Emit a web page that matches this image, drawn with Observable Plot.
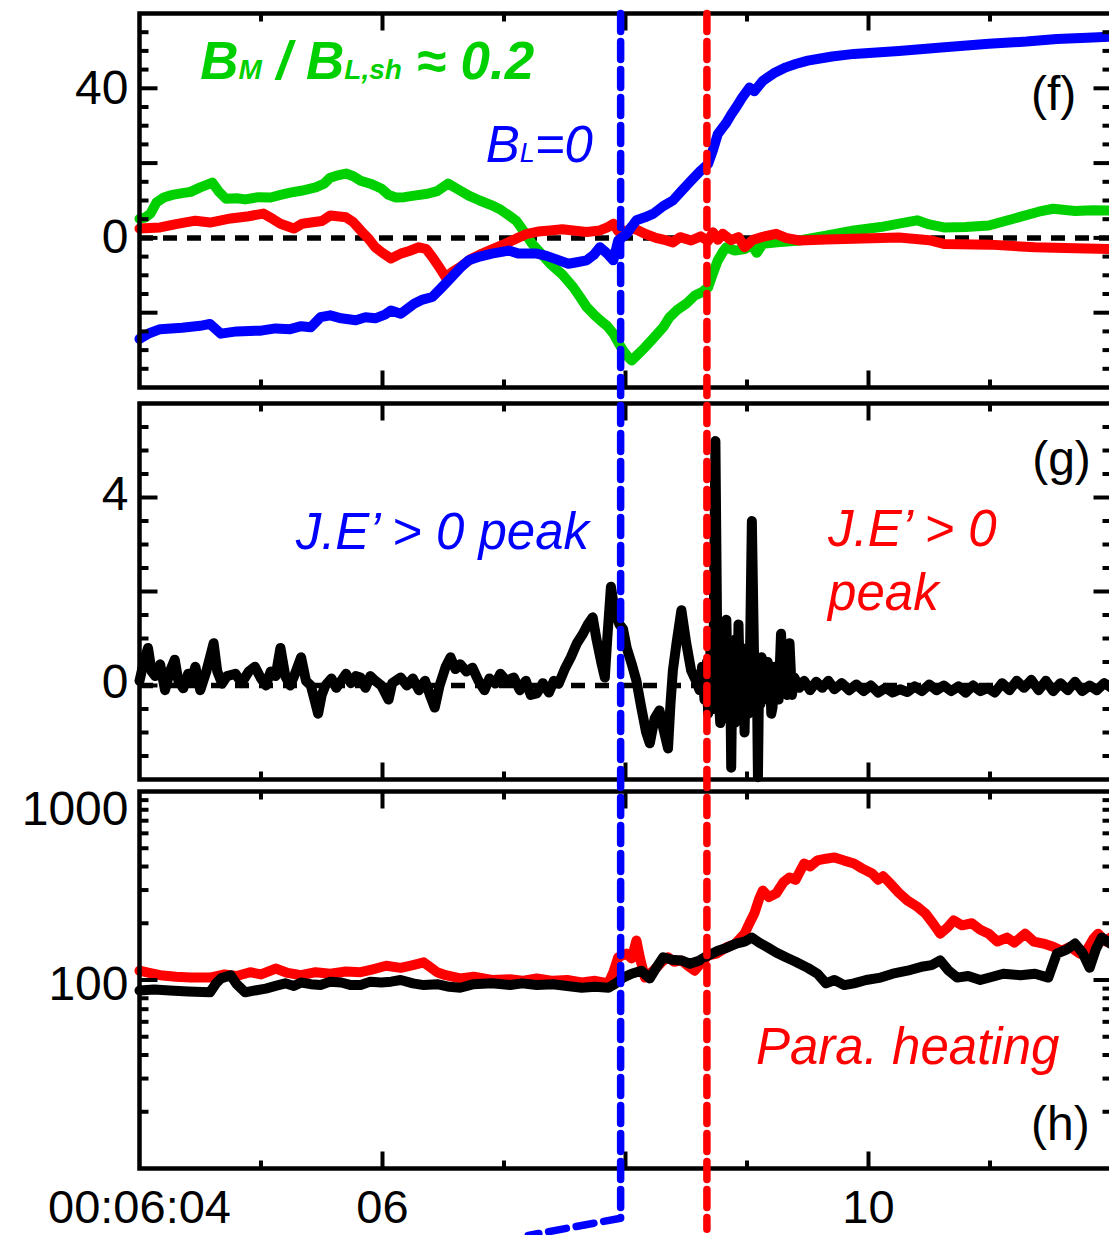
<!DOCTYPE html>
<html><head><meta charset="utf-8">
<script src="https://cdn.jsdelivr.net/npm/d3@7"></script>
<script src="https://cdn.jsdelivr.net/npm/@observablehq/plot@0.6"></script>
<style>
html,body{margin:0;padding:0;background:#fff;overflow:hidden;}
#fig{position:relative;width:1109px;height:1235px;overflow:hidden;background:#fff;}
#fig svg{position:absolute;left:0;max-width:none !important;}
</style></head><body><div id="fig"></div>
<script>
// ---------- data (time in seconds after 00:06:00) ----------
const xTickValues = [4, 6, 10];
const xTickLabels = ["00:06:04", "06", "10"];
const markerTimes = {blue: 7.96, red: 8.67};

// panel (f): magnetic field components
const bM = [[4.00,5.1],[4.05,5.5],[4.09,6.5],[4.14,9.5],[4.20,10.8],[4.27,11.5],[4.34,11.9],[4.42,12.3],[4.50,13.5],[4.60,14.8],[4.65,12.5],[4.71,10.5],[4.80,10.6],[4.87,10.3],[4.98,10.9],[5.08,10.8],[5.16,11.5],[5.24,12.1],[5.33,12.6],[5.45,13.5],[5.52,14.5],[5.57,16.1],[5.64,16.8],[5.70,17.2],[5.76,16.5],[5.82,15.3],[5.90,14.5],[5.99,13.2],[6.05,11.5],[6.11,10.8],[6.18,10.9],[6.26,11.3],[6.37,11.8],[6.45,12.5],[6.54,14.5],[6.62,13.0],[6.71,11.3],[6.80,10.0],[6.90,8.7],[6.97,7.6],[7.04,6.0],[7.10,4.6],[7.14,2.8],[7.19,0.5],[7.23,-1.5],[7.30,-4.0],[7.38,-6.9],[7.48,-9.8],[7.57,-13.2],[7.63,-16.0],[7.68,-18.5],[7.74,-20.5],[7.79,-22],[7.85,-23.6],[7.90,-25.6],[7.95,-28.5],[7.98,-30.1],[8.02,-31.8],[8.05,-32.8],[8.10,-31.2],[8.16,-29.3],[8.23,-26.8],[8.31,-23.9],[8.36,-21.3],[8.42,-19.4],[8.50,-17.6],[8.57,-15.4],[8.63,-14.5],[8.68,-13.2],[8.72,-9.5],[8.76,-6],[8.80,-3.8],[8.83,-2.5],[8.90,-3.4],[8.98,-3],[9.04,-2.0],[9.08,-4.0],[9.13,-1.6],[9.25,-1.2],[9.43,-0.7],[9.65,0.6],[9.88,2],[10.10,2.9],[10.25,3.8],[10.40,4.7],[10.50,3.6],[10.62,2.8],[10.80,2.9],[10.99,3.3],[11.20,5.2],[11.40,7.0],[11.52,7.8],[11.70,7.2],[11.85,7.4],[11.99,7.3]];
const bN = [[4.00,2.5],[4.17,2.8],[4.30,3.7],[4.46,4.6],[4.58,4.1],[4.75,5.2],[4.90,5.8],[5.02,6.5],[5.10,5.0],[5.16,3.8],[5.27,2.5],[5.34,3.8],[5.41,4.1],[5.50,4.5],[5.57,6],[5.70,5.5],[5.76,4.2],[5.82,2],[5.88,0.0],[5.94,-2.5],[6.00,-4.0],[6.07,-5.5],[6.15,-4.2],[6.22,-3.5],[6.30,-2.5],[6.36,-3.0],[6.41,-5.1],[6.47,-8.0],[6.52,-10.5],[6.58,-9.0],[6.64,-7.8],[6.72,-5.8],[6.82,-4.2],[6.92,-2.8],[7.01,-1.6],[7.10,-0.2],[7.19,1.1],[7.28,1.7],[7.38,2],[7.48,2.3],[7.57,2],[7.68,1.6],[7.79,2],[7.85,2.8],[7.90,3.8],[7.94,1.8],[8.01,2],[8.08,2.4],[8.16,1.1],[8.25,0.0],[8.32,-0.5],[8.39,-1.2],[8.45,0.2],[8.54,-0.7],[8.62,0.4],[8.68,-0.8],[8.72,1.5],[8.76,-0.5],[8.80,1.1],[8.87,-0.6],[8.93,0.2],[8.98,-2.5],[9.05,-0.5],[9.13,0.3],[9.24,1.1],[9.32,0.0],[9.43,-0.7],[9.65,-0.4],[9.88,-0.2],[10.25,0.1],[10.50,-0.6],[10.62,-1.6],[11.00,-1.8],[11.37,-2.5],[11.70,-2.8],[11.99,-3]];
const bL = [[4.00,-27],[4.08,-25.5],[4.17,-24.4],[4.35,-24.0],[4.50,-23.5],[4.58,-23],[4.67,-25.6],[4.80,-25.0],[5.00,-24.8],[5.12,-24.2],[5.24,-24.4],[5.33,-23.6],[5.41,-23.9],[5.49,-21.2],[5.57,-20.7],[5.66,-21.5],[5.78,-22],[5.86,-21.2],[5.94,-21.5],[6.02,-20.5],[6.07,-19.4],[6.15,-20.3],[6.26,-17.6],[6.33,-16.5],[6.41,-15.8],[6.48,-13.5],[6.56,-10.8],[6.64,-8.0],[6.71,-6],[6.80,-5.0],[6.90,-4.2],[7.04,-3.4],[7.12,-4.2],[7.27,-4.2],[7.35,-4.8],[7.42,-5.6],[7.53,-6.9],[7.60,-6.5],[7.68,-6],[7.74,-4.5],[7.79,-2.5],[7.85,-4.2],[7.90,-6],[7.94,-0.7],[8.01,1.1],[8.05,3.0],[8.09,4.7],[8.16,5.5],[8.23,6.5],[8.31,8.5],[8.39,10],[8.46,12.5],[8.54,15.3],[8.62,18.0],[8.68,19.8],[8.72,23.5],[8.76,27.8],[8.80,29.5],[8.83,30.8],[8.87,33.0],[8.91,34.9],[8.96,37.5],[9.02,40.2],[9.06,39.2],[9.13,42],[9.22,44.0],[9.32,45.6],[9.40,46.5],[9.50,47.4],[9.70,48.5],[9.88,49.2],[10.25,50],[10.60,50.9],[10.99,51.9],[11.30,52.5],[11.55,53.2],[11.80,53.5],[11.99,53.8]];

// panel (g): J.E'
const jE = [[4.00,0.10],[4.04,0.55],[4.07,0.80],[4.10,0.30],[4.13,0.20],[4.17,0.45],[4.21,-0.10],[4.25,0.30],[4.29,0.55],[4.32,0.10],[4.36,-0.06],[4.40,0.25],[4.43,0.15],[4.46,0.40],[4.50,-0.10],[4.55,0.30],[4.61,0.90],[4.64,0.30],[4.68,0.04],[4.72,0.20],[4.79,0.25],[4.84,0.05],[4.90,0.30],[4.95,0.40],[5.00,0.15],[5.04,0.00],[5.08,0.30],[5.12,0.20],[5.16,0.80],[5.20,0.20],[5.24,0.00],[5.28,0.25],[5.33,0.60],[5.37,0.10],[5.41,0.00],[5.44,-0.30],[5.47,-0.60],[5.50,-0.20],[5.53,0.00],[5.58,0.15],[5.62,-0.05],[5.66,0.10],[5.70,0.25],[5.74,0.05],[5.78,0.20],[5.82,0.17],[5.86,-0.05],[5.90,0.20],[5.94,0.10],[5.99,0.00],[6.05,-0.30],[6.08,0.05],[6.15,0.17],[6.20,0.00],[6.25,0.15],[6.30,-0.10],[6.35,0.10],[6.39,-0.20],[6.43,-0.47],[6.47,0.00],[6.52,0.40],[6.56,0.60],[6.60,0.35],[6.64,0.45],[6.69,0.30],[6.74,0.38],[6.79,0.10],[6.84,-0.10],[6.88,0.15],[6.93,0.04],[6.97,0.25],[7.02,0.10],[7.08,0.17],[7.13,-0.10],[7.18,0.10],[7.22,-0.20],[7.27,-0.17],[7.32,0.05],[7.37,-0.15],[7.41,0.10],[7.45,0.04],[7.50,0.35],[7.55,0.60],[7.60,0.90],[7.65,1.10],[7.69,1.30],[7.73,1.45],[7.76,1.00],[7.80,0.50],[7.83,0.17],[7.85,1.00],[7.88,2.10],[7.91,1.60],[7.95,1.30],[7.98,1.20],[8.01,0.80],[8.05,0.47],[8.09,0.10],[8.13,-0.47],[8.17,-1.00],[8.20,-1.23],[8.24,-0.70],[8.28,-0.53],[8.31,-0.90],[8.35,-1.34],[8.37,-0.40],[8.39,0.32],[8.42,0.90],[8.46,1.60],[8.50,0.90],[8.54,0.32],[8.58,0.10],[8.61,-0.10],[8.63,0.40],[8.65,-0.30],[8.67,0.50],[8.68,-0.60],[8.70,0.80],[8.71,-0.30],[8.72,-0.50],[8.74,5.20],[8.755,0.90],[8.765,0.40],[8.775,-0.60],[8.78,-0.80],[8.79,0.30],[8.80,0.60],[8.81,-0.70],[8.83,1.40],[8.84,0.20],[8.85,-0.60],[8.86,0.70],[8.87,-1.75],[8.88,0.50],[8.89,0.20],[8.90,-0.80],[8.91,1.00],[8.92,-0.30],[8.93,1.30],[8.94,0.20],[8.95,-0.40],[8.96,0.80],[8.98,-1.00],[8.99,0.40],[9.00,0.60],[9.01,-0.60],[9.02,-0.20],[9.04,3.50],[9.065,-0.50],[9.08,0.50],[9.09,-1.95],[9.10,0.30],[9.11,-0.40],[9.12,0.60],[9.13,0.53],[9.14,-0.30],[9.16,-0.20],[9.17,0.50],[9.19,0.30],[9.20,-0.60],[9.21,-0.47],[9.23,0.40],[9.24,0.20],[9.26,-0.30],[9.28,1.10],[9.30,0.10],[9.31,0.40],[9.33,-0.20],[9.35,0.90],[9.37,-0.20],[9.39,0.17],[9.43,-0.05],[9.47,0.10],[9.52,-0.10],[9.57,0.08],[9.62,-0.05],[9.67,0.10],[9.72,-0.08],[9.78,0.05],[9.84,-0.10],[9.90,0.02],[9.96,-0.12],[10.02,0.00],[10.08,-0.15],[10.14,-0.05],[10.20,-0.15],[10.26,-0.08],[10.32,-0.14],[10.38,-0.02],[10.44,-0.12],[10.50,0.02],[10.56,-0.10],[10.62,0.00],[10.68,-0.12],[10.74,-0.02],[10.80,-0.15],[10.86,0.00],[10.92,-0.12],[10.98,-0.05],[11.04,-0.15],[11.10,0.05],[11.16,-0.10],[11.22,0.10],[11.28,-0.05],[11.34,0.12],[11.40,-0.10],[11.46,0.10],[11.52,-0.12],[11.58,0.05],[11.64,-0.10],[11.70,0.08],[11.76,-0.12],[11.82,0.00],[11.88,-0.10],[11.94,0.05],[12.00,-0.05]];

// panel (h): electron temperatures (log)
const tPara = [[4.00,112],[4.08,109],[4.17,106],[4.30,104],[4.42,103],[4.58,103],[4.70,107],[4.80,105],[4.91,110],[5.00,107],[5.12,115],[5.22,109],[5.33,106],[5.45,110],[5.57,108],[5.70,111],[5.82,110],[5.92,114],[6.03,119],[6.15,116],[6.25,120],[6.34,124],[6.40,116],[6.45,110],[6.52,106],[6.64,102],[6.75,104],[6.90,100],[7.05,101],[7.15,99],[7.27,102],[7.40,99],[7.52,100],[7.64,97],[7.75,99],[7.86,96],[7.90,110],[7.94,132],[8.01,138],[8.05,130],[8.09,162],[8.12,130],[8.16,103],[8.23,112],[8.30,125],[8.35,132],[8.40,125],[8.46,127],[8.52,118],[8.57,112],[8.63,125],[8.68,135],[8.75,138],[8.83,149],[8.90,155],[8.98,176],[9.02,200],[9.06,225],[9.10,270],[9.13,298],[9.18,275],[9.24,288],[9.30,330],[9.35,350],[9.40,340],[9.47,415],[9.52,400],[9.58,431],[9.65,440],[9.72,447],[9.80,430],[9.88,415],[9.95,390],[10.03,367],[10.08,340],[10.12,355],[10.18,325],[10.25,290],[10.32,264],[10.40,245],[10.47,225],[10.53,200],[10.59,176],[10.65,190],[10.70,207],[10.77,195],[10.85,200],[10.92,185],[10.99,176],[11.06,160],[11.14,168],[11.20,158],[11.29,176],[11.36,160],[11.44,156],[11.52,150],[11.59,143],[11.66,150],[11.74,138],[11.80,145],[11.85,165],[11.89,176],[11.95,160],[11.99,168]];
const tPerp = [[4.00,88],[4.12,89],[4.25,88],[4.40,87],[4.58,86],[4.63,96],[4.67,102],[4.75,106],[4.80,95],[4.87,86],[4.95,88],[5.04,90],[5.12,93],[5.20,96],[5.27,93],[5.33,97],[5.41,95],[5.49,94],[5.57,98],[5.66,97],[5.74,94],[5.82,94],[5.90,98],[5.99,97],[6.07,98],[6.15,100],[6.25,96],[6.34,94],[6.45,95],[6.55,92],[6.64,91],[6.75,95],[6.90,96],[7.05,94],[7.15,96],[7.27,94],[7.40,95],[7.52,93],[7.64,91],[7.75,92],[7.86,91],[7.92,96],[7.98,103],[8.05,108],[8.13,112],[8.17,106],[8.20,102],[8.26,118],[8.31,132],[8.38,128],[8.46,127],[8.53,122],[8.61,127],[8.68,135],[8.76,143],[8.83,148],[8.91,156],[8.98,160],[9.04,168],[9.10,158],[9.17,149],[9.24,140],[9.32,132],[9.40,125],[9.50,116],[9.58,108],[9.65,96],[9.72,100],[9.80,94],[9.88,96],[9.98,100],[10.10,103],[10.20,108],[10.32,112],[10.45,118],[10.52,120],[10.59,127],[10.66,112],[10.73,103],[10.82,105],[10.92,100],[11.02,104],[11.11,108],[11.25,106],[11.37,108],[11.48,103],[11.55,138],[11.63,145],[11.70,156],[11.76,140],[11.82,116],[11.87,145],[11.92,168],[11.99,156]];

// tick values
const xMajor = [6, 8, 10], xMinor = [5, 7, 9, 11];
const fMajor = [-20, 0, 20, 40], fMinor = [-35,-30,-25,-15,-10,-5,5,10,15,25,30,35,45,50,55];
const gMajor = [0, 2, 4], gMinor = [-1.5,-1,-0.5,0.5,1,1.5,2.5,3,3.5,4.5,5,5.5];
const hMajor = [100], hMinor = [20,30,40,50,60,70,80,90,200,300,400,500,600,700,800,900];

// ---------- rendering ----------
const FONT = "'Liberation Sans', Arial, Helvetica, sans-serif";
const W = 1114, ML = 139, MR = 3;
const fig = document.getElementById("fig");
const style = {fontFamily: FONT, background: "transparent", color: "black", maxWidth: "none", overflow: "visible"};
const tickShape = {draw(ctx, l) { ctx.moveTo(0, 0); ctx.lineTo(0, -l); }};
const TW = 4;
function vt(values, opts) {
  return Plot.vector(values, {anchor: "start", shape: tickShape, stroke: "black", strokeWidth: TW, strokeLinecap: "butt", ...opts});
}
function yTicks(values, len) {
  return [vt(values, {y: d => d, frameAnchor: "left", rotate: 90, length: len}),
          vt(values, {y: d => d, frameAnchor: "right", rotate: -90, length: len})];
}
function xTicks(values, len) {
  return [vt(values, {x: d => d, frameAnchor: "bottom", rotate: 0, length: len}),
          vt(values, {x: d => d, frameAnchor: "top", rotate: 180, length: len})];
}
function yLabels(values, dy) {
  return Plot.axisY(values, {anchor: "left", tickSize: 0, tickPadding: 11, fontSize: 48, dy, tickFormat: d => String(d), label: null});
}
const lineOpts = (stroke, w) => ({x: d => d[0], y: d => d[1], stroke, strokeWidth: w, strokeLinejoin: "round", strokeLinecap: "round"});
const GREEN = "#00d000", RED = "#ff0000", BLUE = "#0000ff";

function place(svg, top) { svg.style.top = top + "px"; fig.appendChild(svg); return svg; }

function richify(svg, content, parts, subSize) {
  const t = Array.from(svg.querySelectorAll("text")).find(e => e.textContent === content);
  if (!t) return;
  while (t.firstChild) t.removeChild(t.firstChild);
  for (const [s, sub] of parts) {
    const ts = document.createElementNS("http://www.w3.org/2000/svg", "tspan");
    ts.textContent = s;
    if (sub) ts.setAttribute("style", `font-size:${subSize}`);
    t.appendChild(ts);
  }
}

const bmNote = "BM / BL,sh ≈ 0.2";
const blNote = "BL=0";

// panel f
const pf = Plot.plot({
  width: W, height: 392, marginLeft: ML, marginRight: MR, marginTop: 13, marginBottom: 5, style,
  x: {domain: [4, 12], axis: null},
  y: {domain: [-40, 60]},
  marks: [
    Plot.ruleY([0], {stroke: "black", strokeWidth: 5.5, strokeDasharray: "14,10"}),
    Plot.line(bM, lineOpts(GREEN, 10)),
    Plot.line(bN, lineOpts(RED, 10)),
    Plot.line(bL, lineOpts(BLUE, 10)),
    ...yTicks(fMajor, 18), ...yTicks(fMinor, 9),
    ...xTicks(xMajor, 17), ...xTicks(xMinor, 8),
    Plot.frame({stroke: "black", strokeWidth: 4.5}),
    yLabels([0, 40], 0),
    Plot.text([{t: 4.50, v: 42.6, s: bmNote}], {x: "t", y: "v", text: "s", textAnchor: "start", lineAnchor: "bottom", fill: GREEN, fontSize: 53, fontWeight: "bold", fontStyle: "italic"}),
    Plot.text([{t: 6.85, v: 20.2, s: blNote}], {x: "t", y: "v", text: "s", textAnchor: "start", lineAnchor: "bottom", fill: BLUE, fontSize: 51, fontStyle: "italic"}),
    Plot.text([{t: 11.71, v: 34.1, s: "(f)"}], {x: "t", y: "v", text: "s", textAnchor: "end", lineAnchor: "bottom", fill: "black", fontSize: 48})
  ]
});
place(pf, 0);
richify(pf, bmNote, [["B"], ["M", 1], [" / "], ["B"], ["L,sh", 1], [" ≈ 0.2"]], "28px");
richify(pf, blNote, [["B"], ["L", 1], ["=0"]], "27px");

// panel g
const pg = Plot.plot({
  width: W, height: 392, marginLeft: ML, marginRight: MR, marginTop: 11, marginBottom: 5, style,
  x: {domain: [4, 12], axis: null},
  y: {domain: [-2, 6]},
  marks: [
    Plot.ruleY([0], {stroke: "black", strokeWidth: 5.5, strokeDasharray: "14,10"}),
    Plot.line(jE, lineOpts("black", 10)),
    ...yTicks(gMajor, 18), ...yTicks(gMinor, 9),
    ...xTicks(xMajor, 17), ...xTicks(xMinor, 8),
    Plot.frame({stroke: "black", strokeWidth: 4.5}),
    yLabels([0, 4], -3),
    Plot.text([{t: 5.285, v: 2.91, s: "J.E’ > 0 peak"}], {x: "t", y: "v", text: "s", textAnchor: "start", lineAnchor: "bottom", fill: BLUE, fontSize: 51, fontStyle: "italic"}),
    Plot.text([{t: 9.667, v: 1.6, s: "J.E’ > 0\npeak"}], {x: "t", y: "v", text: "s", textAnchor: "start", lineAnchor: "bottom", lineHeight: 1.26, fill: RED, fontSize: 51, fontStyle: "italic"}),
    Plot.text([{t: 11.83, v: 4.47, s: "(g)"}], {x: "t", y: "v", text: "s", textAnchor: "end", lineAnchor: "bottom", fill: "black", fontSize: 48})
  ]
});
place(pg, 392);

// panel h
const ph = Plot.plot({
  width: W, height: 451, marginLeft: ML, marginRight: MR, marginTop: 7, marginBottom: 67, style,
  x: {domain: [4, 12]},
  y: {type: "log", domain: [10, 1000]},
  marks: [
    Plot.line(tPara, lineOpts(RED, 10)),
    Plot.line(tPerp, lineOpts("black", 10)),
    ...yTicks(hMajor, 18), ...yTicks(hMinor, 9),
    ...xTicks(xMajor, 17), ...xTicks(xMinor, 8),
    Plot.frame({stroke: "black", strokeWidth: 4.5}),
    yLabels([1000], 18),
    yLabels([100], 5),
    Plot.axisX(xTickValues, {anchor: "bottom", tickSize: 0, tickPadding: 21, fontSize: 47, label: null, tickFormat: d => xTickLabels[xTickValues.indexOf(d)]}),
    Plot.text([{t: 9.074, v: 36, s: "Para. heating"}], {x: "t", y: "v", text: "s", textAnchor: "start", lineAnchor: "bottom", fill: RED, fontSize: 51, fontStyle: "italic"}),
    Plot.text([{t: 11.82, v: 14.1, s: "(h)"}], {x: "t", y: "v", text: "s", textAnchor: "end", lineAnchor: "bottom", fill: "black", fontSize: 48})
  ]
});
place(ph, 784);

// overlay: event markers spanning all panels (y in figure fraction)
const blueMarker = [[markerTimes.blue, 0.0105], [markerTimes.blue, 0.986], [7.20, 1.0]];
const redMarker = [[markerTimes.red, 0.0105], [markerTimes.red, 0.995]];
const po = Plot.plot({
  width: W, height: 1235, marginLeft: ML, marginRight: MR, marginTop: 0, marginBottom: 0, style,
  x: {domain: [4, 12], axis: null},
  y: {domain: [0, 1], range: [0, 1235], axis: null},
  marks: [
    Plot.line(blueMarker, {x: d => d[0], y: d => d[1], stroke: BLUE, strokeWidth: 7.5, strokeDasharray: "18,10"}),
    Plot.line(redMarker, {x: d => d[0], y: d => d[1], stroke: RED, strokeWidth: 7.5, strokeDasharray: "18,10"})
  ]
});
po.style.pointerEvents = "none";
place(po, 0);
</script></body></html>
